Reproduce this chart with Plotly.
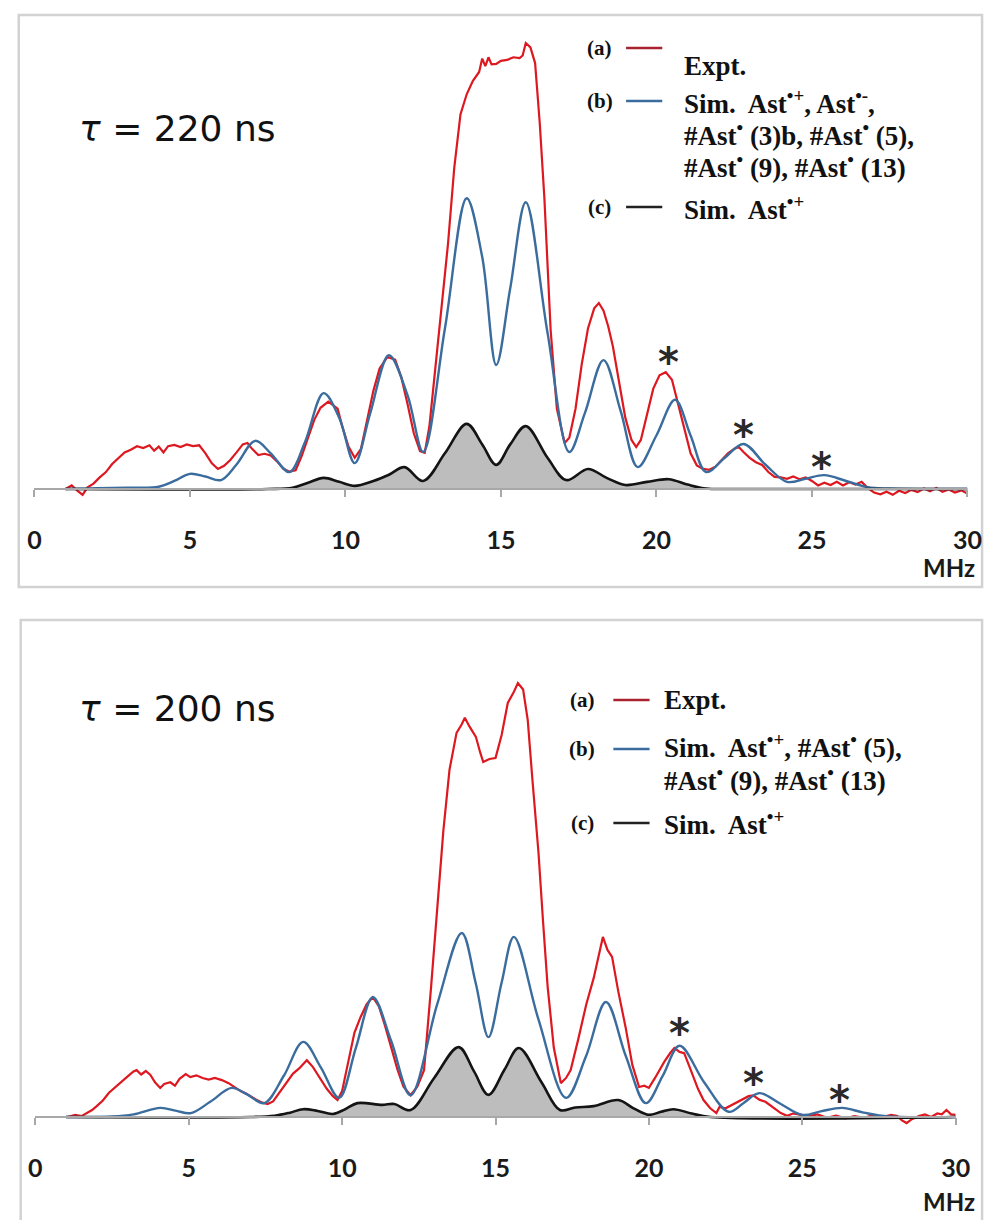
import plotly.graph_objects as go

W, H = 1000, 1220

# ---------------- Panel 1 : tau = 220 ns ----------------
p1_expt_x = [1.0, 1.2, 1.4, 1.55, 1.7, 1.9, 2.1, 2.3, 2.5, 2.7, 2.9, 3.1, 3.3, 3.5, 3.7, 3.85, 4.0, 4.15, 4.3, 4.5,
             4.7, 4.9, 5.1, 5.3, 5.5, 5.7, 5.9, 6.1, 6.3, 6.5, 6.7, 6.85, 7.0, 7.2, 7.4, 7.6, 7.8, 8.0, 8.2, 8.4,
             8.6, 8.8, 9.0, 9.2, 9.45, 9.6, 9.75, 9.9, 10.1, 10.3, 10.5, 10.7, 10.9, 11.1, 11.35, 11.6, 11.8, 12.0,
             12.2, 12.4, 12.55, 12.7, 12.9, 13.1, 13.3, 13.5, 13.7, 13.9, 14.1, 14.3, 14.4, 14.5, 14.6, 14.7, 14.85,
             15.0, 15.2, 15.4, 15.6, 15.7, 15.8, 15.95, 16.1, 16.25, 16.4, 16.6, 16.8, 17.05, 17.2, 17.4, 17.6, 17.8,
             18.0, 18.15, 18.3, 18.45, 18.6, 18.8, 19.0, 19.2, 19.35, 19.5, 19.7, 19.9, 20.1, 20.3, 20.5, 20.7, 20.9,
             21.1, 21.3, 21.5, 21.7, 21.9, 22.1, 22.3, 22.5, 22.65, 22.8, 23.0, 23.2, 23.4, 23.6, 23.8, 24.0, 24.2,
             24.4, 24.6, 24.8, 25.0, 25.2, 25.4, 25.6, 25.8, 26.0, 26.2, 26.4, 26.6, 26.8, 27.0, 27.2, 27.4, 27.6,
             27.8, 28.0, 28.2, 28.4, 28.6, 28.8, 29.0, 29.2, 29.4, 29.6, 29.8, 30.0]
p1_expt_y = [0.0, 0.8, -0.5, -1.3, 0.3, 1.2, 2.6, 3.8, 5.6, 6.9, 8.2, 8.8, 9.6, 9.2, 9.8, 8.6, 9.5, 8.2, 9.6, 9.9,
             9.4, 10.0, 9.6, 9.8, 8.0, 5.8, 4.5, 5.2, 6.5, 8.2, 10.0, 10.3, 9.0, 7.6, 7.9, 7.5, 6.2, 4.6, 3.9, 4.2,
             7.5, 11.5, 15.5, 18.2, 19.6, 18.8, 18.0, 14.0, 9.5, 7.0, 9.0, 15.5, 22.0, 27.0, 29.6, 29.0, 25.0, 19.0,
             12.5, 8.5, 8.1, 14.0, 28.0, 42.0, 55.0, 72.0, 84.0, 88.5, 91.5, 93.5, 96.5, 94.8, 96.8, 95.2, 95.3,
             96.0, 96.2, 96.8, 96.6, 97.2, 100.0, 99.0, 95.5, 82.0, 65.0, 35.6, 18.0, 10.3, 11.5, 18.0, 28.0, 36.0,
             40.5, 41.7, 40.0, 36.5, 32.0, 24.0, 16.0, 11.0, 9.4, 11.0, 17.0, 22.5, 25.5, 26.2, 24.5, 19.0, 13.0,
             8.0, 5.3, 4.5, 4.3, 5.0, 6.5, 8.0, 9.0, 9.4, 8.3, 7.0, 6.0, 5.4, 3.8, 2.7, 2.6, 2.3,
             2.8, 2.2, 2.6, 1.8, 0.8, 1.4, 0.9, 1.6, 0.8, 1.5, 1.0, 1.6, 0.2, -0.8, -1.2, -0.6, -1.3,
             -0.4, -0.9, -0.2, -0.7, 0.1, -0.5, 0.2, -0.6, -0.1, -0.8, -0.3, -1.0]

p1_simb_x = [1.0, 2.0, 3.0, 4.0, 4.5, 5.0, 5.5, 6.0, 6.5, 7.1, 7.6, 8.2, 8.7, 9.3, 9.8, 10.3, 10.8, 11.4, 12.0, 12.5,
             13.2, 13.9, 14.4, 14.85, 15.3, 15.8, 16.5, 17.2, 17.7, 18.3, 18.85, 19.4, 20.0, 20.6, 21.1, 21.6, 22.2,
             22.8, 23.5, 24.2, 24.8, 25.4, 26.1, 26.8, 27.5, 30.0]
p1_simb_y = [0.0, 0.2, 0.3, 0.5, 1.8, 3.4, 2.8, 2.0, 5.5, 10.8, 8.0, 3.8, 10.5, 21.5, 16.0, 5.8, 17.0, 30.0, 21.0, 8.3,
             36.0, 65.2, 52.0, 27.8, 45.0, 64.3, 35.0, 8.3, 17.0, 28.9, 17.5, 4.9, 12.0, 20.0, 12.0, 3.8, 7.0,
             10.1, 5.5, 1.6, 2.3, 3.1, 1.8, 0.4, 0.1, 0.0]

p1_simc_x = [1.0, 7.5, 8.3, 8.8, 9.3, 9.8, 10.3, 10.9, 11.4, 11.9, 12.5, 13.2, 13.9, 14.4, 14.85, 15.3, 15.8, 16.5,
             17.1, 17.8, 18.4, 19.0, 19.7, 20.4, 21.0, 21.6, 22.5, 30.0]
p1_simc_y = [0.0, 0.0, 0.3, 1.4, 2.5, 1.6, 0.7, 1.8, 3.2, 4.9, 1.8, 8.0, 14.6, 10.0, 5.4, 10.0, 14.1, 7.0,
             2.0, 4.5, 2.5, 0.9, 1.6, 2.2, 1.0, 0.1, 0.0, 0.0]

p1_star_x = [20.4, 22.8, 25.3]
p1_star_y = [30.7, 14.3, 7.2]

# ---------------- Panel 2 : tau = 200 ns ----------------
p2_expt_x = [1.05, 1.3, 1.5, 1.7, 1.85, 2.0, 2.2, 2.4, 2.6, 2.8, 3.0, 3.2, 3.3, 3.45, 3.6, 3.75, 3.9, 4.07, 4.2, 4.4,
             4.55, 4.7, 4.9, 5.05, 5.25, 5.45, 5.65, 5.85, 6.08, 6.3, 6.5, 6.7, 6.85, 7.04, 7.2, 7.4, 7.57, 7.75,
             7.95, 8.2, 8.4, 8.6, 8.85, 9.05, 9.27, 9.5, 9.7, 9.85, 10.0, 10.2, 10.4, 10.6, 10.8, 11.0, 11.2, 11.4,
             11.6, 11.8, 12.0, 12.23, 12.45, 12.67, 12.9, 13.1, 13.3, 13.5, 13.73, 13.9, 14.0, 14.15, 14.36, 14.5,
             14.6, 14.8, 15.0, 15.2, 15.4, 15.6, 15.73, 15.9, 16.05, 16.2, 16.4, 16.55, 16.7, 16.9, 17.13, 17.3,
             17.45, 17.7, 17.96, 18.2, 18.35, 18.5, 18.65, 18.8, 19.0, 19.24, 19.46, 19.68, 19.85, 20.0, 20.2, 20.5,
             20.7, 20.83, 21.0, 21.15, 21.3, 21.46, 21.6, 21.78, 22.0, 22.2, 22.3, 22.5, 22.7, 22.9, 23.1, 23.25,
             23.4, 23.6, 23.8, 24.0, 24.15, 24.3, 24.5, 24.7, 24.97, 25.2, 25.5, 25.8, 26.1, 26.4, 26.7, 27.0, 27.3,
             27.6, 27.9, 28.1, 28.25, 28.4, 28.55, 28.8, 29.0, 29.2, 29.4, 29.55, 29.7, 29.85, 30.0]
p2_expt_y = [0.0, 0.5, 0.2, 1.0, 1.6, 2.5, 3.8, 5.6, 6.9, 8.0, 9.3, 10.5, 10.8, 9.8, 10.6, 9.7, 8.0, 6.7, 7.6, 8.0,
             7.2, 8.8, 9.9, 9.2, 9.6, 9.0, 8.6, 9.0, 8.5, 7.8, 6.9, 5.9, 5.5, 4.6, 4.0, 3.3, 3.0, 3.6,
             5.5, 8.0, 10.0, 11.2, 13.1, 11.5, 9.2, 6.5, 4.8, 3.9, 6.0, 12.5, 19.4, 23.0, 26.0, 27.6, 25.5, 21.0,
             16.0, 11.0, 7.0, 5.0, 7.0, 10.8, 30.0, 49.0, 66.0, 80.0, 88.5, 90.5, 92.0, 90.0, 87.6, 84.0,
             81.8, 82.5, 82.7, 88.0, 95.4, 98.0, 100.0, 98.5, 91.5, 78.0, 61.0, 45.0, 30.0, 16.0, 7.8, 9.0,
             10.8, 18.0, 26.0, 32.0, 37.0, 41.5, 38.5, 36.9, 29.0, 20.7, 12.0, 6.9, 7.2, 6.7, 9.0, 12.7,
             14.8, 15.9, 15.0, 14.7, 12.0, 9.2, 6.5, 3.9, 2.0, 0.9, 2.3, 2.0, 2.8, 3.5, 4.2, 4.8,
             5.0, 4.0, 3.5, 2.5, 1.6, 0.9, 0.3, 0.8, 0.5, 0.2, 0.6, -0.2, 0.3, -0.3, 0.2, -0.2, 0.4,
             0.0, 0.5, 0.2, -0.8, -1.4, -0.6, 0.2, 0.6, 0.0, 0.8, 0.6, 1.6, 0.6, 0.5]

p2_simb_x = [1.0, 2.5, 3.2, 4.07, 4.6, 5.07, 5.7, 6.4, 6.9, 7.46, 8.1, 8.73, 9.3, 9.9, 10.45, 11.0, 11.6, 12.23, 13.1,
             13.9, 14.35, 14.77, 15.2, 15.6, 16.4, 17.3, 17.95, 18.6, 19.25, 19.9, 20.45, 21.0, 21.8, 22.6, 23.1,
             23.6, 24.3, 25.0, 25.6, 26.3, 27.0, 27.8, 30.0]
p2_simb_y = [0.0, 0.1, 0.6, 2.1, 1.4, 0.9, 3.5, 6.7, 5.2, 3.2, 9.5, 17.3, 11.5, 4.4, 16.0, 27.6, 17.5, 5.0, 26.0,
             42.4, 31.0, 18.4, 31.0, 41.5, 22.5, 4.4, 14.0, 26.5, 14.0, 3.2, 9.5, 16.4, 8.0, 1.2, 3.3,
             5.5, 3.0, 0.5, 1.3, 2.1, 1.0, 0.1, 0.0]

p2_simc_x = [1.0, 7.0, 7.8, 8.3, 8.73, 9.2, 9.7, 10.1, 10.5, 11.3, 11.7, 12.23, 13.0, 13.8, 14.3, 14.77, 15.3, 15.76,
             16.5, 17.1, 17.6, 18.2, 19.0, 19.5, 20.0, 20.4, 20.8, 21.4, 22.0, 30.0]
p2_simc_y = [0.0, 0.0, 0.3, 1.0, 1.8, 1.4, 0.7, 1.8, 3.2, 2.8, 3.0, 1.6, 9.0, 16.1, 10.5, 5.1, 11.0, 15.9,
             8.0, 1.6, 2.2, 2.5, 3.9, 2.0, 0.5, 1.2, 1.8, 0.8, 0.0, 0.0]

p2_star_x = [21.0, 23.4, 26.2]
p2_star_y = [21.7, 10.1, 6.2]

tick_vals = [0, 5, 10, 15, 20, 25, 30]
tick_text = ["0", "5", "10", "15", "20", "25", "30"]

tau_labels = ["<i>τ</i> = 220 ns", "<i>τ</i> = 200 ns"]
p1_legend_b = ["Sim.  Ast<sup>•+</sup>, Ast<sup>•-</sup>,",
               "#Ast<sup>•</sup> (3)b, #Ast<sup>•</sup> (5),",
               "#Ast<sup>•</sup> (9), #Ast<sup>•</sup> (13)"]
p2_legend_b = ["Sim.  Ast<sup>•+</sup>, #Ast<sup>•</sup> (5),",
               "#Ast<sup>•</sup> (9), #Ast<sup>•</sup> (13)"]
legend_c = "Sim.  Ast<sup>•+</sup>"

RED = "#DD1820"
BLUE = "#3A6C9E"
BLACK = "#141414"
GREY = "#BDBDBD"


def px(xp):
    return xp / W


def py(yp):
    return 1 - yp / H


fig = go.Figure()

for (ex, ey, bx, by, cx, cy, xa, ya) in [
    (p1_expt_x, p1_expt_y, p1_simb_x, p1_simb_y, p1_simc_x, p1_simc_y, "x", "y"),
    (p2_expt_x, p2_expt_y, p2_simb_x, p2_simb_y, p2_simc_x, p2_simc_y, "x2", "y2"),
]:
    fig.add_trace(go.Scatter(x=cx, y=cy, mode="lines", fill="tozeroy", fillcolor=GREY,
                             line=dict(color=BLACK, width=0, shape="spline"), xaxis=xa, yaxis=ya,
                             hoverinfo="skip"))
    fig.add_trace(go.Scatter(x=ex, y=ey, mode="lines", line=dict(color=RED, width=2.2),
                             xaxis=xa, yaxis=ya, name="Expt."))
    fig.add_trace(go.Scatter(x=bx, y=by, mode="lines", line=dict(color=BLUE, width=2.4, shape="spline"),
                             xaxis=xa, yaxis=ya, name="Sim. b"))
    fig.add_trace(go.Scatter(x=cx, y=cy, mode="lines", line=dict(color=BLACK, width=2.6, shape="spline"),
                             xaxis=xa, yaxis=ya, name="Sim. c"))

axis_common = dict(range=[0, 30], showgrid=False, zeroline=False, showline=True, linecolor="#A8A8A8",
                   linewidth=1.5, ticks="outside", ticklen=7, tickwidth=1.5, tickcolor="#A8A8A8",
                   tickvals=tick_vals, ticktext=tick_text, anchor="free",
                   tickfont=dict(family="Lato", size=25, color="#1A1A1A", weight="bold"),
                   ticklabelstandoff=22)
yaxis_common = dict(visible=False, showgrid=False, zeroline=False, fixedrange=True)

fig.update_layout(
    width=W, height=H, margin=dict(l=0, r=0, t=0, b=0),
    paper_bgcolor="white", plot_bgcolor="white", showlegend=False,
    xaxis=dict(domain=[px(28), px(982)], position=py(489), **axis_common),
    yaxis=dict(domain=[py(500), py(40)], range=[-11 / 4.46, 449 / 4.46], anchor="x", **yaxis_common),
    xaxis2=dict(domain=[px(29), px(970)], position=py(1117), **axis_common),
    yaxis2=dict(domain=[py(1128), py(670)], range=[-11 / 4.34, 447 / 4.34], anchor="x2", **yaxis_common),
)

# frames
fig.add_shape(type="rect", xref="paper", yref="paper", x0=px(12), x1=px(997), y0=py(587), y1=py(15),
              line=dict(color="#D2D2D2", width=2.5), layer="below")
fig.add_shape(type="rect", xref="paper", yref="paper", x0=px(14), x1=px(997), y0=py(1240), y1=py(620),
              line=dict(color="#D2D2D2", width=2.5), layer="below")

ann = []
# tau labels
for lab, yy in zip(tau_labels, [128, 708]):
    ann.append(dict(text=lab, x=px(72), y=py(yy), xref="paper", yref="paper", xanchor="left", yanchor="middle",
                    showarrow=False, font=dict(family="DejaVu Sans", size=36, color="#111111")))
# MHz labels
for xx, yy in [(992, 567), (992, 1201)]:
    ann.append(dict(text="MHz", x=px(xx), y=py(yy), xref="paper", yref="paper", xanchor="right",
                    yanchor="middle", showarrow=False,
                    font=dict(family="Lato", size=24, color="#1A1A1A", weight="bold")))
# asterisks
for sx, sy, xr, yr in [(p1_star_x, p1_star_y, "x", "y"), (p2_star_x, p2_star_y, "x2", "y2")]:
    for a, b in zip(sx, sy):
        ann.append(dict(text="*", x=a, y=b, xref=xr, yref=yr, showarrow=False, yshift=-10,
                        font=dict(family="DejaVu Sans", size=40, color="#2A2A2A", weight="bold")))

SERIF = "Liberation Serif"
lfont = dict(family=SERIF, size=27, color="#111111", weight="bold")
sfont = dict(family=SERIF, size=21, color="#111111", weight="bold")


def legend_block(lab_x, line_x0, line_x1, text_x, rows):
    out = []
    for tag, ly, color, lines in rows:
        ann_ = dict(text=tag, x=px(lab_x), y=py(ly), xref="paper", yref="paper", xanchor="center",
                    yanchor="middle", showarrow=False, font=sfont)
        out.append(ann_)
        fig.add_shape(type="line", xref="paper", yref="paper", x0=px(line_x0), x1=px(line_x1),
                      y0=py(ly), y1=py(ly), line=dict(color=color, width=2.5))
        for txt, ty in lines:
            out.append(dict(text=txt, x=px(text_x), y=py(ty), xref="paper", yref="paper", xanchor="left",
                            yanchor="middle", showarrow=False, font=lfont))
    return out


ann += legend_block(606, 633, 670, 690, [
    ("(a)", 48, "#A82230", [("Expt.", 66)]),
    ("(b)", 101, BLUE, [(p1_legend_b[0], 102), (p1_legend_b[1], 134), (p1_legend_b[2], 166)]),
    ("(c)", 207, "#222222", [(legend_c, 208)]),
])
ann += legend_block(588, 620, 657, 670, [
    ("(a)", 700, "#A82230", [("Expt.", 700)]),
    ("(b)", 749, BLUE, [(p2_legend_b[0], 746), (p2_legend_b[1], 779)]),
    ("(c)", 823, "#222222", [(legend_c, 823)]),
])

fig.update_layout(annotations=ann)
fig.write_html("out.html")
